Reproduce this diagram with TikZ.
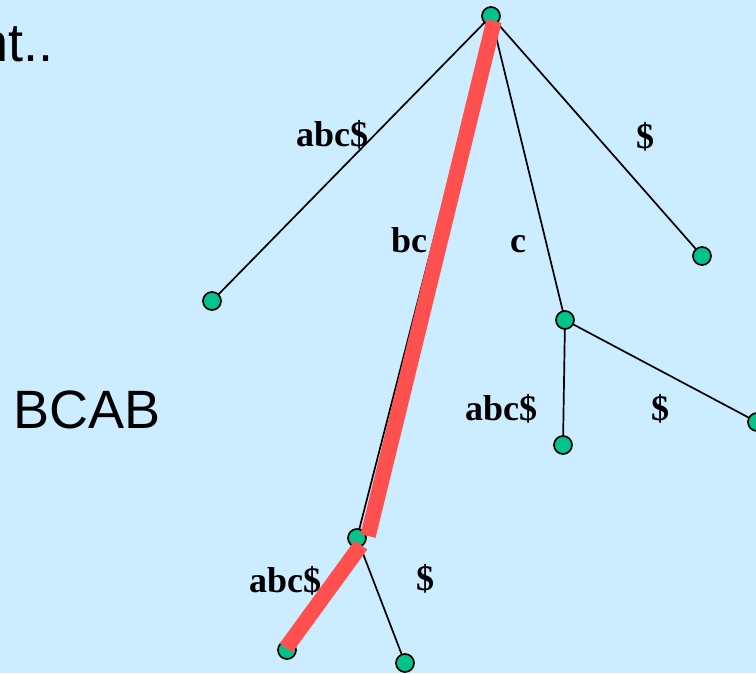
\documentclass[tikz,border=0pt]{standalone}
\usepackage{fontspec}
\setmainfont{Liberation Serif}
\newfontfamily\arialfont{Liberation Sans}
\definecolor{bgblue}{RGB}{204,236,255}
\definecolor{vgreen}{RGB}{0,196,140}
\definecolor{pathred}{RGB}{255,80,80}
\begin{document}
\begin{tikzpicture}[x=1pt,y=-1pt,
  vtx/.style={circle,draw=black,line width=1.7pt,fill=vgreen,minimum size=18pt,inner sep=0pt},
  edge/.style={draw=black,line width=1.7pt},
  hilite/.style={draw=pathred,line width=15.5pt,line cap=butt},
  elabel/.style={font=\fontsize{36}{36}\selectfont\bfseries,anchor=base west,inner sep=0pt},
  bigtext/.style={font=\arialfont\fontsize{54}{54}\selectfont,inner sep=0pt}]
  % canvas
  \fill[bgblue] (0,0) rectangle (756,673);
  \useasboundingbox (0,0) rectangle (756,673);

  % side text
  \node[bigtext,anchor=base east] (txtA) at (54,61) {nt..};
  \node[bigtext,anchor=base west] (txtB) at (13,428) {BCAB};

  % tree vertices
  \coordinate (r)  at (491,16);
  \coordinate (l1) at (212,301);
  \coordinate (l2) at (702,256);
  \coordinate (c)  at (565,320);
  \coordinate (c1) at (563,445);
  \coordinate (c2) at (757,422);
  \coordinate (b)  at (357,538);
  \coordinate (b1) at (287,650);
  \coordinate (b2) at (405,663);

  % edges
  \draw[edge] (r) -- (l1);
  \draw[edge] (r) -- (l2);
  \draw[edge] (r) -- (c);
  \draw[edge] (r) -- (b);
  \draw[edge] (c) -- (c1);
  \draw[edge] (c) -- (c2);
  \draw[edge] (b) -- (b1);
  \draw[edge] (b) -- (b2);

  \node[vtx] (nr)  at (r)  {};
  \node[vtx] (nl1) at (l1) {};
  \node[vtx] (nl2) at (l2) {};
  \node[vtx] (nc)  at (c)  {};
  \node[vtx] (nc1) at (c1) {};
  \node[vtx] (nc2) at (c2) {};
  \node[vtx] (nb)  at (b)  {};
  \node[vtx] (nb1) at (b1) {};
  \node[vtx] (nb2) at (b2) {};

  % highlighted path
  \coordinate (h1) at (494,21);
  \coordinate (h2) at (368,536);
  \coordinate (h3) at (361,545);
  \coordinate (h4) at (286,648);
  \draw[hilite] (h1) -- (h2);
  \draw[hilite] (h3) -- (h4);

  % edge labels
  \node[elabel] (e1) at (296,146) {abc\$};
  \node[elabel] (e2) at (636,148) {\$};
  \node[elabel] (e3) at (391,252) {bc};
  \node[elabel] (e4) at (510,252) {c};
  \node[elabel] (e5) at (465,420) {abc\$};
  \node[elabel] (e6) at (651,420) {\$};
  \node[elabel] (e7) at (249,592) {abc\$};
  \node[elabel] (e8) at (416,590) {\$};
\end{tikzpicture}
\end{document}
